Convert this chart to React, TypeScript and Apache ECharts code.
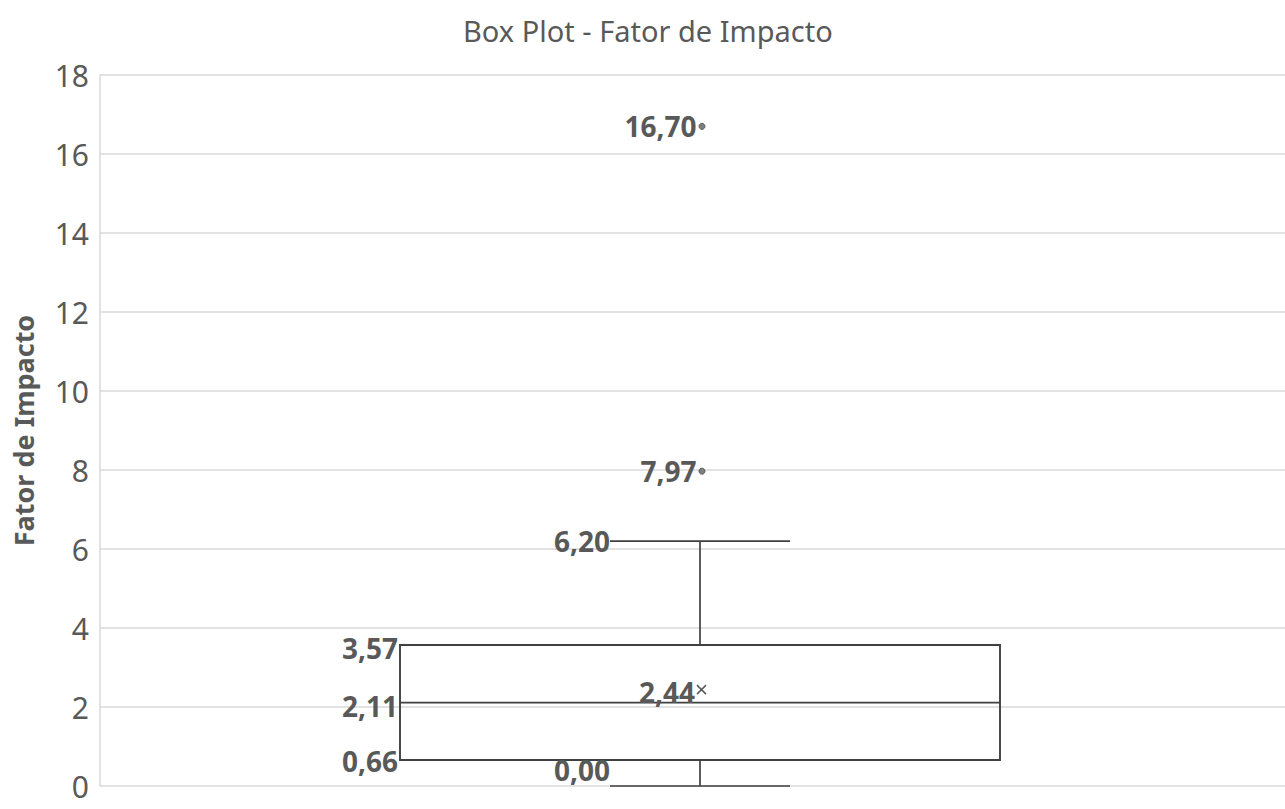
import React, { useEffect, useRef } from "react";
import * as echarts from "echarts";

// Five-number summary of the impact factor distribution
const categories = ["Fator de Impacto"];
const boxStats = [0.0, 0.66, 2.11, 3.57, 6.2]; // min, Q1, median, Q3, max
const meanValues = [2.44];
const outlierValues = [7.97, 16.7];
const yTicks = { min: 0, max: 18, interval: 2 };

const FONT = "'Noto Sans', 'Open Sans', sans-serif";
const TEXT = "#595959";
const LINE = "#404040";
const LABEL_SIZE = 28;

const fmt = (v: number) => v.toFixed(2).replace(".", ",");

export default function App() {
  const ref = useRef<HTMLDivElement>(null);

  useEffect(() => {
    if (!ref.current) return;
    const chart = echarts.init(ref.current, null, { renderer: "svg" });

    const boxData = categories.map((_, i) => [i, ...boxStats, meanValues[i]]);
    const outlierData = outlierValues.map((v) => [0, v]);

    const labelStyle = (text: string, x: number, y: number, vAlign = "middle") => ({
      type: "text",
      style: {
        text,
        x,
        y,
        align: "right",
        verticalAlign: vAlign,
        fill: TEXT,
        font: `bold ${LABEL_SIZE}px ${FONT}`,
      },
    });

    chart.setOption({
      animation: false,
      backgroundColor: "#ffffff",
      title: {
        text: "Box Plot - Fator de Impacto",
        left: 458,
        top: 11,
        textStyle: { color: TEXT, fontSize: 29, fontWeight: "normal", fontFamily: FONT },
      },
      grid: {
        left: 100,
        right: -15,
        top: 75,
        bottom: 23,
        containLabel: false,
        outerBoundsMode: "none",
      },
      xAxis: {
        type: "category",
        data: categories,
        axisLine: { show: false },
        axisTick: { show: false },
        axisLabel: { show: false },
        splitLine: { show: false },
      },
      yAxis: {
        type: "value",
        min: yTicks.min,
        max: yTicks.max,
        interval: yTicks.interval,
        name: "Fator de Impacto",
        nameLocation: "middle",
        nameRotate: 90,
        nameGap: 63,
        nameTextStyle: { color: TEXT, fontSize: 27, fontWeight: "bold", fontFamily: FONT },
        axisLine: { show: true, lineStyle: { color: "#d9d9d9", width: 1.5 } },
        axisTick: { show: false },
        axisLabel: { color: TEXT, fontSize: 30, fontFamily: FONT, margin: 11 },
        splitLine: { lineStyle: { color: "#d9d9d9", width: 1.5 } },
      },
      series: [
        {
          type: "custom",
          data: boxData,
          encode: { x: 0, y: [1, 2, 3, 4, 5, 6] },
          renderItem: (params: any, api: any) => {
            const idx = api.value(0);
            const band = api.size([1, 0])[0];
            const pt = (v: number) => api.coord([idx, v]);
            const [cx, yMin] = pt(api.value(1));
            const yQ1 = pt(api.value(2))[1];
            const yMed = pt(api.value(3))[1];
            const yQ3 = pt(api.value(4))[1];
            const yMax = pt(api.value(5))[1];
            const mean = api.value(6);
            const yMean = pt(mean)[1];
            const boxHalf = band * 0.25;
            const capHalf = band * 0.075;
            const lineStyle = { stroke: LINE, lineWidth: 1.7, fill: "none" };
            const seg = (x1: number, y1: number, x2: number, y2: number) => ({
              type: "line",
              shape: { x1, y1, x2, y2 },
              style: lineStyle,
            });
            const m = 4.5;
            const mx = cx + 1.5;
            return {
              type: "group",
              children: [
                seg(cx, yQ3, cx, yMax),
                seg(cx, yQ1, cx, yMin),
                seg(cx - capHalf, yMax, cx + capHalf, yMax),
                seg(cx - capHalf, yMin, cx + capHalf, yMin),
                {
                  type: "rect",
                  shape: { x: cx - boxHalf, y: yQ3, width: boxHalf * 2, height: yQ1 - yQ3 },
                  style: { stroke: LINE, lineWidth: 1.9, fill: "none" },
                },
                seg(cx - boxHalf, yMed, cx + boxHalf, yMed),
                {
                  type: "line",
                  shape: { x1: mx - m, y1: yMean - m, x2: mx + m, y2: yMean + m },
                  style: { stroke: TEXT, lineWidth: 1.5 },
                },
                {
                  type: "line",
                  shape: { x1: mx - m, y1: yMean + m, x2: mx + m, y2: yMean - m },
                  style: { stroke: TEXT, lineWidth: 1.5 },
                },
                labelStyle(fmt(api.value(4)), cx - boxHalf - 2, yQ3 + 3),
                labelStyle(fmt(api.value(3)), cx - boxHalf - 2, yMed + 3),
                labelStyle(fmt(api.value(2)), cx - boxHalf - 2, yQ1 + 1),
                labelStyle(fmt(api.value(5)), cx - capHalf, yMax),
                labelStyle(fmt(api.value(1)), cx - capHalf, yMin - 2, "bottom"),
                labelStyle(fmt(mean), mx - m - 2, yMean + 2),
              ],
            };
          },
          z: 3,
        },
        {
          type: "scatter",
          data: outlierData,
          symbol: "circle",
          symbolSize: 6,
          symbolOffset: [2, 0],
          itemStyle: { color: "#7f7f7f", borderColor: TEXT, borderWidth: 1, opacity: 1 },
          label: {
            show: true,
            position: "left",
            distance: 2,
            formatter: (p: any) => fmt(p.value[1]),
            color: TEXT,
            opacity: 1,
            fontSize: LABEL_SIZE,
            fontWeight: "bold",
            fontFamily: FONT,
          },
          z: 4,
        },
      ],
    });

    return () => chart.dispose();
  }, []);

  return (
    <div
      ref={ref}
      style={{ position: "fixed", left: 0, top: 0, width: 1285, height: 809, background: "#fff" }}
    />
  );
}
